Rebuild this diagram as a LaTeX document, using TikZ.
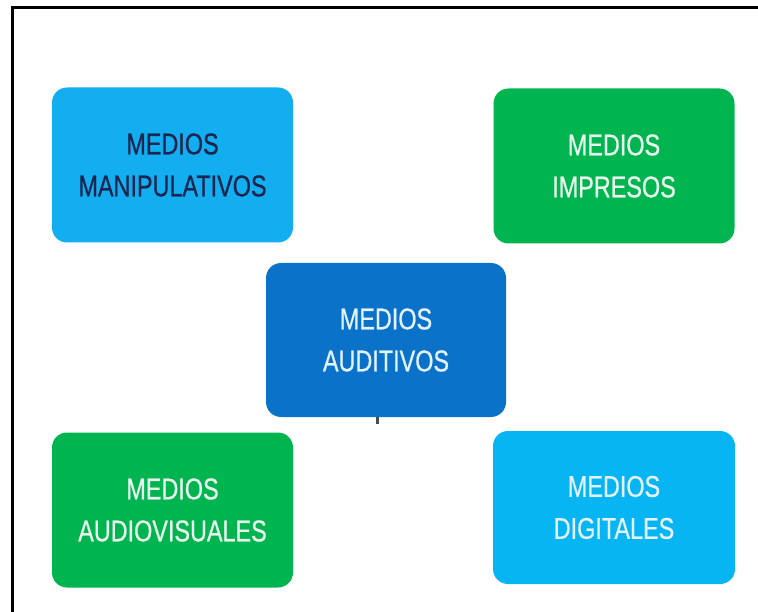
\documentclass[tikz,border=0pt]{standalone}
\usepackage{fontspec}
\setmainfont{Liberation Sans}[FakeStretch=0.78, FakeBold=0.6]
\definecolor{lblue}{HTML}{12AEEF}
\definecolor{cblue}{HTML}{06B5F2}
\definecolor{dblue}{HTML}{0A72C8}
\definecolor{mgreen}{HTML}{00B550}
\definecolor{navy}{HTML}{1B2550}
\definecolor{wgreen}{HTML}{E8F8EE}
\definecolor{wblue}{HTML}{E2F2FF}
\tikzset{
  box/.style={rounded corners=15pt, minimum width=241pt, minimum height=155pt,
    inner sep=0pt, align=center, font=\fontsize{30}{42}\selectfont},
  frameline/.style={line width=3pt, black},
  stub/.style={line width=3pt, gray!60!black}
}
\begin{document}
\begin{tikzpicture}[x=1pt,y=-1pt]
\useasboundingbox (0,0) rectangle (758,612);
\coordinate (fbl) at (12,612);
\coordinate (ftl) at (12,8);
\coordinate (ftr) at (758,8);
\draw[frameline] (fbl) -- (ftl) -- (ftr);
\node[box, fill=lblue, text=navy] (man) at (172.5,165) {MEDIOS\\MANIPULATIVOS};
\node[box, fill=mgreen, text=wgreen] (imp) at (614,166) {MEDIOS\\IMPRESOS};
\node[box, fill=dblue, text=wblue, minimum width=240pt, minimum height=154pt] (aud) at (386,340) {MEDIOS\\AUDITIVOS};
\node[box, fill=mgreen, text=wgreen] (av) at (172.5,510) {MEDIOS\\AUDIOVISUALES};
\node[box, fill=cblue, text=wblue, minimum width=242pt, minimum height=153pt] (dig) at (614,507.5) {MEDIOS\\DIGITALES};
\coordinate (stubend) at (377.5,424);
\draw[stub] (stubend |- aud.south) -- (stubend);
\end{tikzpicture}
\end{document}
